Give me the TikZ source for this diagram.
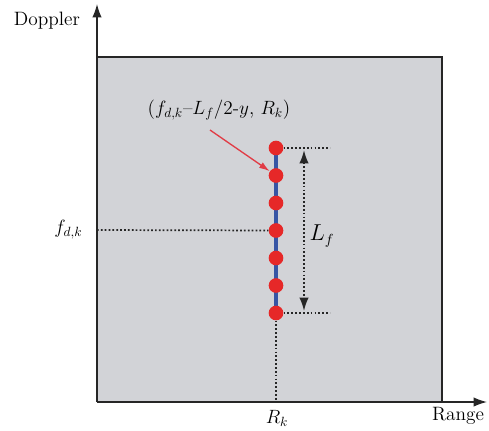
\documentclass[tikz,border=0pt]{standalone}
\usetikzlibrary{arrows.meta}
\definecolor{panelgray}{RGB}{210,211,215}
\definecolor{dotred}{RGB}{230,40,40}
\definecolor{arrowred}{RGB}{225,60,70}
\definecolor{lineblue}{RGB}{55,85,165}
\tikzset{
  axis/.style={line width=1pt, black!85, -{Latex[length=10pt,width=7pt]}},
  guide/.style={line width=1.3pt, black!85, dash pattern=on 1.3pt off 1.6pt},
  sample/.style={circle, fill=dotred, inner sep=0pt, minimum size=11pt},
  lbl/.style={font=\fontsize{14.5}{17}\selectfont, inner sep=1pt},
}

\begin{document}
\begin{tikzpicture}[x=0.75pt, y=-0.75pt]
\useasboundingbox (0,0) rectangle (489,430);
% panel
\fill[panelgray] (97,57) rectangle (442,402);
\draw[line width=1pt, black!85] (97,57) -- (442,57) -- (442,402);
% axes
\coordinate (o) at (97,402);
\coordinate (ytip) at (97,4);
\coordinate (xtip) at (487,402);
\draw[axis] (o) -- (ytip);
\draw[axis] (o) -- (xtip);
\node[lbl] (doppler) at (47,21) {Doppler};
\node[lbl] (range) at (458,416) {Range};
% samples along the column
\draw[line width=3pt, lineblue] (276,148) -- (276,313);
\foreach \i in {1,...,7}
  \node[sample] (p\i) at (276,{148+(\i-1)*27.5}) {};
% guides
\coordinate (rk) at (276,402);
\coordinate (fd) at (97,230);
\coordinate (top) at (330,148);
\coordinate (bot) at (330,313);
\draw[guide] (p7) -- (rk);
\draw[guide] (fd) -- (p4);
\draw[guide] (p1) -- (top);
\draw[guide] (p7) -- (bot);
\draw[guide, {Latex[length=10pt,width=7pt]}-{Latex[length=10pt,width=7pt]}] (304,150) -- (304,311);
\node[lbl, font=\fontsize{16}{18}\selectfont] (lf) at (322,236) {$L_f$};
\node[lbl, anchor=east] (fdk) at (84,230) {$f_{d,k}$};
\node[lbl] (rklbl) at (277,418) {$R_k$};
% annotation
\node[lbl] (note) at (219,110) {($f_{d,k}$--$L_f$/2-$y$, $R_k$)};
\draw[arrowred, line width=1pt, -{Latex[length=8pt,width=5pt]}] (210,130) -- (p2);
\end{tikzpicture}
\end{document}
